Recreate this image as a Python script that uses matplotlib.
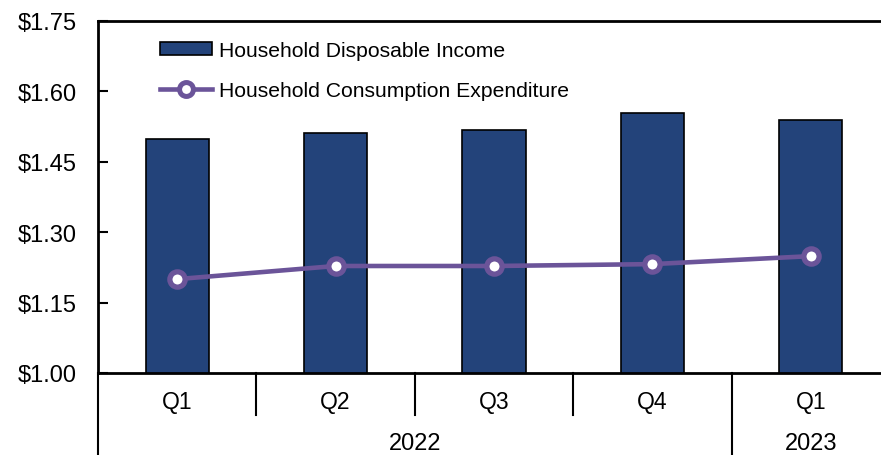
import matplotlib

matplotlib.use("Agg")
import matplotlib.pyplot as plt
from matplotlib.patches import Patch
from matplotlib.lines import Line2D

plt.rcParams["font.family"] = ["Liberation Sans", "DejaVu Sans"]
plt.rcParams["font.size"] = 15

quarters = ["Q1", "Q2", "Q3", "Q4", "Q1"]
years = ["2022", "2023"]
year_spans = [(0, 3), (4, 4)]
income = [1.499, 1.511, 1.518, 1.554, 1.539]
consumption = [1.200, 1.228, 1.228, 1.232, 1.249]

BAR_COLOR = "#23437A"
LINE_COLOR = "#6B5499"

W, H = 881, 456
fig = plt.figure(figsize=(W / 100, H / 100), dpi=100)
left, right, top, bottom = 98, 890, 22, 374
ax = fig.add_axes([left / W, (H - bottom) / H, (right - left) / W, (bottom - top) / H])

x = list(range(len(quarters)))
ax.bar(x, income, width=0.40, color=BAR_COLOR, edgecolor="black", linewidth=1.2, zorder=2)
ax.plot(x, consumption, color=LINE_COLOR, linewidth=3.3, marker="o", markersize=11,
        markerfacecolor="white", markeredgecolor=LINE_COLOR, markeredgewidth=3.8, zorder=3)

ax.set_xlim(-0.5, len(quarters) - 0.5)
ax.set_ylim(1.00, 1.75)
yticks = [1.00, 1.15, 1.30, 1.45, 1.60, 1.75]
ax.set_yticks(yticks)
ax.set_yticklabels([f"${v:.2f}" for v in yticks])
ax.tick_params(axis="y", direction="in", length=7, width=1.5, pad=15, labelsize=17)
ax.set_xticks([])
for side in ["left", "bottom", "top"]:
    ax.spines[side].set_linewidth(2)
ax.spines["right"].set_visible(False)

# two-level category axis below the plot
px = 1 / (bottom - top)
tr = ax.get_xaxis_transform()
for i, q in enumerate(quarters):
    ax.text(i, -29 * px, q, transform=tr, ha="center", va="center", fontsize=16.5)
year_bounds = [s - 0.5 for s, _ in year_spans]
for i in range(len(quarters)):
    b = i - 0.5
    depth = -(H - bottom) * px if b in year_bounds else -42 * px
    ax.plot([b, b], [0, depth], transform=tr, color="black", linewidth=1.5, clip_on=False)
for name, (s, e) in zip(years, year_spans):
    ax.text((s + e) / 2, -70 * px, name, transform=tr, ha="center", va="center", fontsize=17)

handles = [
    Patch(facecolor=BAR_COLOR, edgecolor="black", linewidth=1.2),
    Line2D([], [], color=LINE_COLOR, linewidth=3.3, marker="o", markersize=10,
           markerfacecolor="white", markeredgecolor=LINE_COLOR, markeredgewidth=3.6),
]
labels = ["Household Disposable Income", "Household Consumption Expenditure"]
ax.legend(handles, labels, loc="upper left", bbox_to_anchor=(62 / (right - left), 1 - 20 * px),
          frameon=False, borderpad=0, borderaxespad=0, handlelength=2.45, handleheight=0.6,
          handletextpad=0.33, labelspacing=1.0, fontsize=15.2)

fig.savefig("out.png", dpi=100)
